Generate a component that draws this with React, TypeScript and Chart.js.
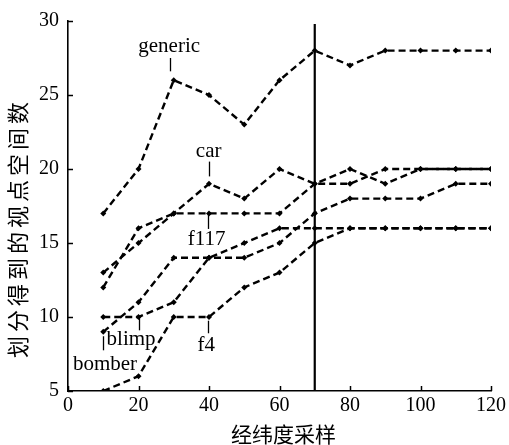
import React, { useEffect, useRef } from "react";
import { Chart, registerables } from "chart.js";

Chart.register(...registerables);

const samples = [10, 20, 30, 40, 50, 60, 70, 80, 90, 100, 110, 120];
const generic = [17, 20, 26, 25, 23, 26, 28, 27, 28, 28, 28, 28];
const car = [13, 15, 17, 19, 18, 20, 19, 19, 20, 20, 20, 20];
const f117 = [12, 16, 17, 17, 17, 17, 19, 20, 19, 20, 20, 20];
const blimp = [10, 10, 11, 14, 15, 16, 16, 16, 16, 16, 16, 16];
const bomber = [9, 11, 14, 14, 14, 15, 17, 18, 18, 18, 19, 19];
const f4 = [5, 6, 10, 10, 12, 13, 15, 16, 16, 16, 16, 16];
const seriesNames = ["generic", "car", "f117", "blimp", "bomber", "f4"];
const seriesValues = [generic, car, f117, blimp, bomber, f4];

const markerX = 70;
const markerYRange = [5, 29.8];

const xTitle = "经纬度采样";
const yTitle = "划分得到的视点空间数";

// label annotations: text anchor (data coords) and leader line (data coords)
const labelTexts = ["generic", "car", "f117", "blimp", "bomber", "f4"];
const labelAnchors = [
  { x: 28.7, y: 28.25, lx: 28.9, ly1: 27.5, ly2: 26.6 },
  { x: 39.9, y: 21.15, lx: 40.1, ly1: 20.5, ly2: 19.5 },
  { x: 39.3, y: 15.25, lx: 39.8, ly1: 16.95, ly2: 15.95 },
  { x: 17.9, y: 8.5, lx: 20.0, ly1: 10.1, ly2: 9.1 },
  { x: 10.5, y: 6.82, lx: 9.8, ly1: 8.7, ly2: 7.75 },
  { x: 39.2, y: 8.1, lx: 39.6, ly1: 9.75, ly2: 8.9 },
];

const SERIF = '"Liberation Serif", "Times New Roman", serif';
const CJK = '"Noto Sans CJK SC", sans-serif';

const decorPlugin = {
  id: "decor",
  afterDraw(chart: any) {
    const ctx = chart.ctx;
    const xs = chart.scales.x;
    const ys = chart.scales.y;
    const area = chart.chartArea;
    ctx.save();
    ctx.strokeStyle = "#000";
    ctx.fillStyle = "#000";
    ctx.lineWidth = 1.5;
    // inward ticks
    ys.ticks.forEach((t: any) => {
      const py = Math.round(ys.getPixelForValue(t.value)) + 0.5;
      ctx.beginPath();
      ctx.moveTo(area.left, py);
      ctx.lineTo(area.left + 5, py);
      ctx.stroke();
    });
    xs.ticks.forEach((t: any) => {
      const px = Math.round(xs.getPixelForValue(t.value)) + 0.5;
      ctx.beginPath();
      ctx.moveTo(px, area.bottom);
      ctx.lineTo(px, area.bottom - 5);
      ctx.stroke();
    });
    // labels
    ctx.lineWidth = 1.3;
    ctx.font = "21px " + SERIF;
    ctx.textAlign = "center";
    ctx.textBaseline = "middle";
    labelTexts.forEach((txt, i) => {
      const a = labelAnchors[i];
      ctx.fillText(txt, xs.getPixelForValue(a.x), ys.getPixelForValue(a.y));
      const lx = Math.round(xs.getPixelForValue(a.lx)) + 0.5;
      ctx.beginPath();
      ctx.moveTo(lx, ys.getPixelForValue(a.ly1));
      ctx.lineTo(lx, ys.getPixelForValue(a.ly2));
      ctx.stroke();
    });
    // axis titles
    ctx.font = "21px " + CJK;
    ctx.textAlign = "center";
    ctx.textBaseline = "middle";
    ctx.fillText(xTitle, (area.left + area.right) / 2 + 4, 434);
    ctx.save();
    ctx.translate(18, 228);
    ctx.rotate(-Math.PI / 2);
    ctx.font = "22px " + CJK;
    try {
      (ctx as any).letterSpacing = "4px";
    } catch (e) {}
    ctx.fillText(yTitle, 0, 0);
    ctx.restore();
    ctx.restore();
  },
};

export default function App() {
  const ref = useRef<HTMLCanvasElement | null>(null);
  useEffect(() => {
    if (!ref.current) return;
    const datasets: any[] = seriesValues.map((vals, i) => ({
      label: seriesNames[i],
      data: samples.map((x, j) => ({ x, y: vals[j] })),
      borderColor: "#000",
      backgroundColor: "#000",
      borderWidth: 2.4,
      borderDash: [7, 4],
      pointStyle: "rectRot",
      pointRadius: 3,
      pointBorderWidth: 0,
      tension: 0,
    }));
    datasets.push({
      label: "marker",
      data: markerYRange.map((y) => ({ x: markerX, y })),
      borderColor: "#000",
      borderWidth: 2.2,
      pointRadius: 0,
    });
    const chart = new Chart(ref.current, {
      type: "line",
      data: { datasets },
      options: {
        animation: false,
        responsive: false,
        devicePixelRatio: 1,
        layout: { padding: { top: 18, right: 13, left: 0, bottom: 0 } },
        plugins: { legend: { display: false }, tooltip: { enabled: false } },
        scales: {
          x: {
            type: "linear",
            min: 0,
            max: 120,
            ticks: { stepSize: 20, color: "#000", font: { family: SERIF, size: 20 }, padding: 3, maxRotation: 0 },
            grid: { display: true, drawOnChartArea: false, drawTicks: false },
            border: { color: "#000", width: 1.6 },
            afterFit: (s: any) => {
              s.height = 54;
            },
          },
          y: {
            type: "linear",
            min: 5,
            max: 30,
            ticks: { stepSize: 5, color: "#000", font: { family: SERIF, size: 20 }, padding: 9 },
            grid: { display: true, drawOnChartArea: false, drawTicks: false },
            border: { color: "#000", width: 1.6 },
            afterFit: (s: any) => {
              s.width = 68;
            },
          },
        },
      } as any,
      plugins: [decorPlugin],
    });
    return () => chart.destroy();
  }, []);
  return (
    <div style={{ position: "absolute", left: 0, top: 0, width: 509, height: 445, background: "#fff" }}>
      <canvas ref={ref} width={509} height={445} />
    </div>
  );
}
